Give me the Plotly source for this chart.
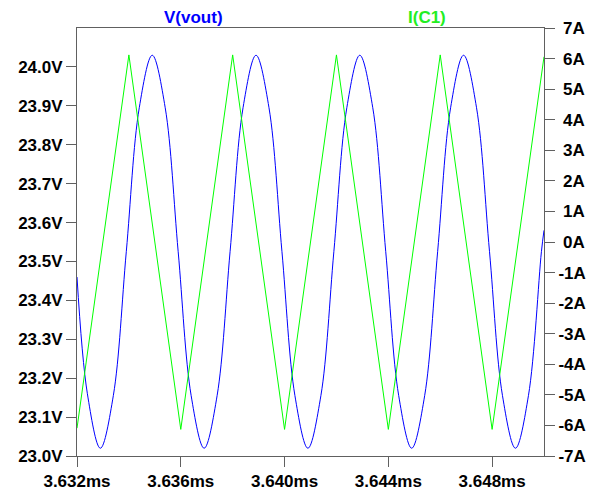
import plotly.graph_objects as go

# ---- data (times in ms) ----
vout_t = [3.6320, 3.6324, 3.6329, 3.6334, 3.6339, 3.6344, 3.6349, 3.6354, 3.6359,
          3.6364, 3.6369, 3.6374, 3.6379, 3.6384, 3.6389, 3.6394, 3.6399, 3.6404,
          3.6409, 3.6414, 3.6419, 3.6424, 3.6429, 3.6434, 3.6439, 3.6444, 3.6449,
          3.6454, 3.6459, 3.6464, 3.6469, 3.6474, 3.6479, 3.6484, 3.6489, 3.6494,
          3.6499, 3.6500]
vout_v = [23.46, 23.16, 23.02, 23.155, 23.525, 23.895, 24.03, 23.895, 23.525,
          23.155, 23.02, 23.155, 23.525, 23.895, 24.03, 23.895, 23.525, 23.155,
          23.02, 23.155, 23.525, 23.895, 24.03, 23.895, 23.525, 23.155, 23.02,
          23.155, 23.525, 23.895, 24.03, 23.895, 23.525, 23.155, 23.02, 23.155,
          23.525, 23.58]

ic1_t = [3.632, 3.634, 3.636, 3.638, 3.640, 3.642, 3.644, 3.646, 3.648, 3.650]
ic1_a = [-6.09, 6.12, -6.13, 6.12, -6.13, 6.12, -6.13, 6.12, -6.13, 6.06]

x_ticks = [3.632, 3.636, 3.640, 3.644, 3.648]
x_tick_text = ["3.632ms", "3.636ms", "3.640ms", "3.644ms", "3.648ms"]
v_ticks = [23.0, 23.1, 23.2, 23.3, 23.4, 23.5, 23.6, 23.7, 23.8, 23.9, 24.0]
v_tick_text = ["23.0V", "23.1V", "23.2V", "23.3V", "23.4V", "23.5V",
               "23.6V", "23.7V", "23.8V", "23.9V", "24.0V"]
a_ticks = [7, 6, 5, 4, 3, 2, 1, 0, -1, -2, -3, -4, -5, -6, -7]
a_tick_text = ["\u20087A", "\u20086A", "\u20085A", "\u20084A", "\u20083A", "\u20082A",
               "\u20081A", "\u20080A", "-1A", "-2A", "-3A", "-4A", "-5A", "-6A", "-7A"]

FONT = "Liberation Sans, Arial, sans-serif"
AX = "#606060"

fig = go.Figure()
fig.add_trace(go.Scatter(x=ic1_t, y=ic1_a, mode="lines", yaxis="y2",
                         line=dict(color="#00ff00", width=1), name="I(C1)"))
fig.add_trace(go.Scatter(x=vout_t, y=vout_v, mode="lines",
                         line=dict(color="#0000ff", width=1, shape="spline", smoothing=1),
                         name="V(vout)"))

tickfont = dict(family=FONT, size=17, color="#000000", weight="bold")

# the page body has an 8px margin, so the figure is offset by 8px
fig.update_layout(
    width=588, height=483,
    margin=dict(l=69, r=52, t=20, b=35),
    paper_bgcolor="white", plot_bgcolor="white",
    showlegend=False,
    xaxis=dict(range=[3.632, 3.650], tickvals=x_ticks, ticktext=x_tick_text,
               showgrid=False, zeroline=False, showline=True, mirror=True,
               linecolor=AX, linewidth=1, ticks="outside", ticklen=10,
               tickcolor=AX, tickfont=tickfont, automargin=False),
    yaxis=dict(range=[23.0, 24.1], tickvals=v_ticks, ticktext=v_tick_text,
               showgrid=False, zeroline=False, showline=True,
               linecolor=AX, linewidth=1, ticks="outside", ticklen=10,
               tickcolor=AX, tickfont=tickfont, automargin=False),
    yaxis2=dict(range=[-7, 7], tickvals=a_ticks, ticktext=a_tick_text,
                overlaying="y", side="right",
                showgrid=False, zeroline=False, showline=True,
                linecolor=AX, linewidth=1, ticks="outside", ticklen=10,
                tickcolor=AX, tickfont=tickfont, automargin=False),
    annotations=[
        dict(text="V(vout)", x=0.25, y=1, xref="paper", yref="paper",
             xanchor="center", yanchor="bottom", yshift=0, borderpad=0,
             showarrow=False,
             font=dict(family=FONT, size=17, color="#0000ff", weight="bold")),
        dict(text="I(C1)", x=0.75, y=1, xref="paper", yref="paper",
             xanchor="center", yanchor="bottom", yshift=0, borderpad=0,
             showarrow=False,
             font=dict(family=FONT, size=17, color="#22ee22", weight="bold")),
    ],
)

fig.write_html("out.html")
